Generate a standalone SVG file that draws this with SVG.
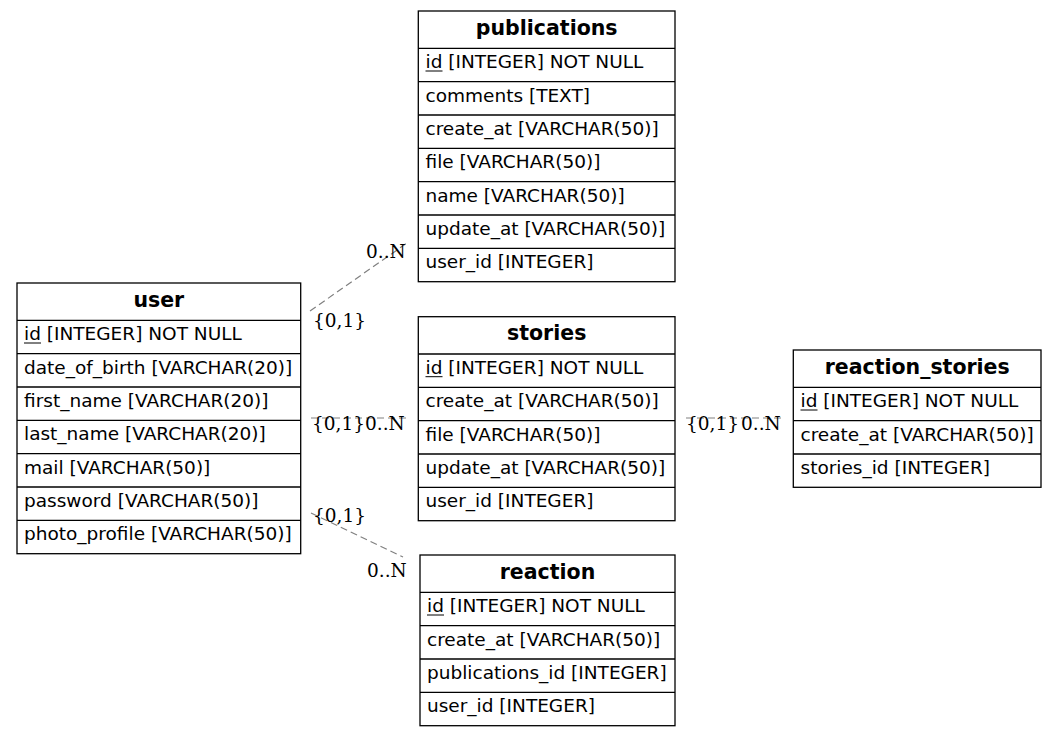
<svg xmlns="http://www.w3.org/2000/svg" width="1057" height="737" viewBox="0 0 1057 737">
<style>
.box{fill:#ffffff;stroke:#000000;stroke-width:1.3}
.sep{stroke:#000000;stroke-width:1.3}
.hdr{font-family:"DejaVu Sans",sans-serif;font-weight:bold;font-size:20.5px;text-anchor:middle;fill:#000}
.fld{font-family:"DejaVu Sans",sans-serif;font-size:18.5px;fill:#000}
.ul{stroke:#000;stroke-width:1}
.edge{stroke:#808080;stroke-width:1.2;stroke-dasharray:7,4;fill:none}
.lbl{font-family:"DejaVu Serif",serif;font-size:18.5px;fill:#000}
</style>
<rect width="1057" height="737" fill="#ffffff"/>
<g id="edges">
<line class="edge" x1="310" y1="311" x2="407" y2="243"/>
<line class="edge" x1="311" y1="418" x2="408" y2="418"/>
<line class="edge" x1="311" y1="513" x2="403" y2="557"/>
<line class="edge" x1="686" y1="418" x2="782" y2="418"/>
<text class="lbl" x="366" y="258">0..N</text>
<text class="lbl" x="313" y="327">{0,1}</text>
<text class="lbl" x="312" y="430">{0,1}</text>
<text class="lbl" x="365" y="430">0..N</text>
<text class="lbl" x="313" y="522">{0,1}</text>
<text class="lbl" x="367" y="577">0..N</text>
<text class="lbl" x="686" y="430">{0,1}</text>
<text class="lbl" x="741" y="430">0..N</text>
</g>
<g id="user">
<rect class="box" x="17" y="283" width="283.7" height="270.7"/>
<line class="sep" x1="17" y1="320.3" x2="300.7" y2="320.3"/>
<line class="sep" x1="17" y1="353.7" x2="300.7" y2="353.7"/>
<line class="sep" x1="17" y1="387" x2="300.7" y2="387"/>
<line class="sep" x1="17" y1="420.3" x2="300.7" y2="420.3"/>
<line class="sep" x1="17" y1="453.7" x2="300.7" y2="453.7"/>
<line class="sep" x1="17" y1="487" x2="300.7" y2="487"/>
<line class="sep" x1="17" y1="520.3" x2="300.7" y2="520.3"/>
<text class="hdr" x="158.8" y="306.5">user</text>
<text class="fld" x="24" y="340.3">id [INTEGER] NOT NULL</text>
<line class="ul" x1="24" y1="343" x2="41" y2="343"/>
<text class="fld" x="24" y="373.7">date_of_birth [VARCHAR(20)]</text>
<text class="fld" x="24" y="407">first_name [VARCHAR(20)]</text>
<text class="fld" x="24" y="440.3">last_name [VARCHAR(20)]</text>
<text class="fld" x="24" y="473.7">mail [VARCHAR(50)]</text>
<text class="fld" x="24" y="507">password [VARCHAR(50)]</text>
<text class="fld" x="24" y="540.3">photo_profile [VARCHAR(50)]</text>
</g>
<g id="publications">
<rect class="box" x="418.3" y="11" width="256.7" height="270.7"/>
<line class="sep" x1="418.3" y1="48.3" x2="675" y2="48.3"/>
<line class="sep" x1="418.3" y1="81.7" x2="675" y2="81.7"/>
<line class="sep" x1="418.3" y1="115" x2="675" y2="115"/>
<line class="sep" x1="418.3" y1="148.3" x2="675" y2="148.3"/>
<line class="sep" x1="418.3" y1="181.7" x2="675" y2="181.7"/>
<line class="sep" x1="418.3" y1="215" x2="675" y2="215"/>
<line class="sep" x1="418.3" y1="248.3" x2="675" y2="248.3"/>
<text class="hdr" x="546.7" y="34.5">publications</text>
<text class="fld" x="425.5" y="68.3">id [INTEGER] NOT NULL</text>
<line class="ul" x1="425.5" y1="71" x2="442.5" y2="71"/>
<text class="fld" x="425.5" y="101.7">comments [TEXT]</text>
<text class="fld" x="425.5" y="135">create_at [VARCHAR(50)]</text>
<text class="fld" x="425.5" y="168.3">file [VARCHAR(50)]</text>
<text class="fld" x="425.5" y="201.7">name [VARCHAR(50)]</text>
<text class="fld" x="425.5" y="235">update_at [VARCHAR(50)]</text>
<text class="fld" x="425.5" y="268.3">user_id [INTEGER]</text>
</g>
<g id="stories">
<rect class="box" x="418.3" y="316.7" width="256.7" height="204"/>
<line class="sep" x1="418.3" y1="354" x2="675" y2="354"/>
<line class="sep" x1="418.3" y1="387.3" x2="675" y2="387.3"/>
<line class="sep" x1="418.3" y1="420.7" x2="675" y2="420.7"/>
<line class="sep" x1="418.3" y1="454" x2="675" y2="454"/>
<line class="sep" x1="418.3" y1="487.3" x2="675" y2="487.3"/>
<text class="hdr" x="546.7" y="340.2">stories</text>
<text class="fld" x="425.5" y="374">id [INTEGER] NOT NULL</text>
<line class="ul" x1="425.5" y1="376.7" x2="442.5" y2="376.7"/>
<text class="fld" x="425.5" y="407.3">create_at [VARCHAR(50)]</text>
<text class="fld" x="425.5" y="440.7">file [VARCHAR(50)]</text>
<text class="fld" x="425.5" y="474">update_at [VARCHAR(50)]</text>
<text class="fld" x="425.5" y="507.3">user_id [INTEGER]</text>
</g>
<g id="reaction">
<rect class="box" x="420" y="555" width="255" height="170.7"/>
<line class="sep" x1="420" y1="592.3" x2="675" y2="592.3"/>
<line class="sep" x1="420" y1="625.7" x2="675" y2="625.7"/>
<line class="sep" x1="420" y1="659" x2="675" y2="659"/>
<line class="sep" x1="420" y1="692.3" x2="675" y2="692.3"/>
<text class="hdr" x="547.5" y="578.5">reaction</text>
<text class="fld" x="427" y="612.3">id [INTEGER] NOT NULL</text>
<line class="ul" x1="427" y1="615" x2="444" y2="615"/>
<text class="fld" x="427" y="645.7">create_at [VARCHAR(50)]</text>
<text class="fld" x="427" y="679">publications_id [INTEGER]</text>
<text class="fld" x="427" y="712.3">user_id [INTEGER]</text>
</g>
<g id="reaction_stories">
<rect class="box" x="793.3" y="350" width="247.7" height="137.3"/>
<line class="sep" x1="793.3" y1="387.3" x2="1041" y2="387.3"/>
<line class="sep" x1="793.3" y1="420.7" x2="1041" y2="420.7"/>
<line class="sep" x1="793.3" y1="454" x2="1041" y2="454"/>
<text class="hdr" x="917.2" y="373.5">reaction_stories</text>
<text class="fld" x="800.5" y="407.3">id [INTEGER] NOT NULL</text>
<line class="ul" x1="800.5" y1="410" x2="817.5" y2="410"/>
<text class="fld" x="800.5" y="440.7">create_at [VARCHAR(50)]</text>
<text class="fld" x="800.5" y="474">stories_id [INTEGER]</text>
</g>
</svg>
